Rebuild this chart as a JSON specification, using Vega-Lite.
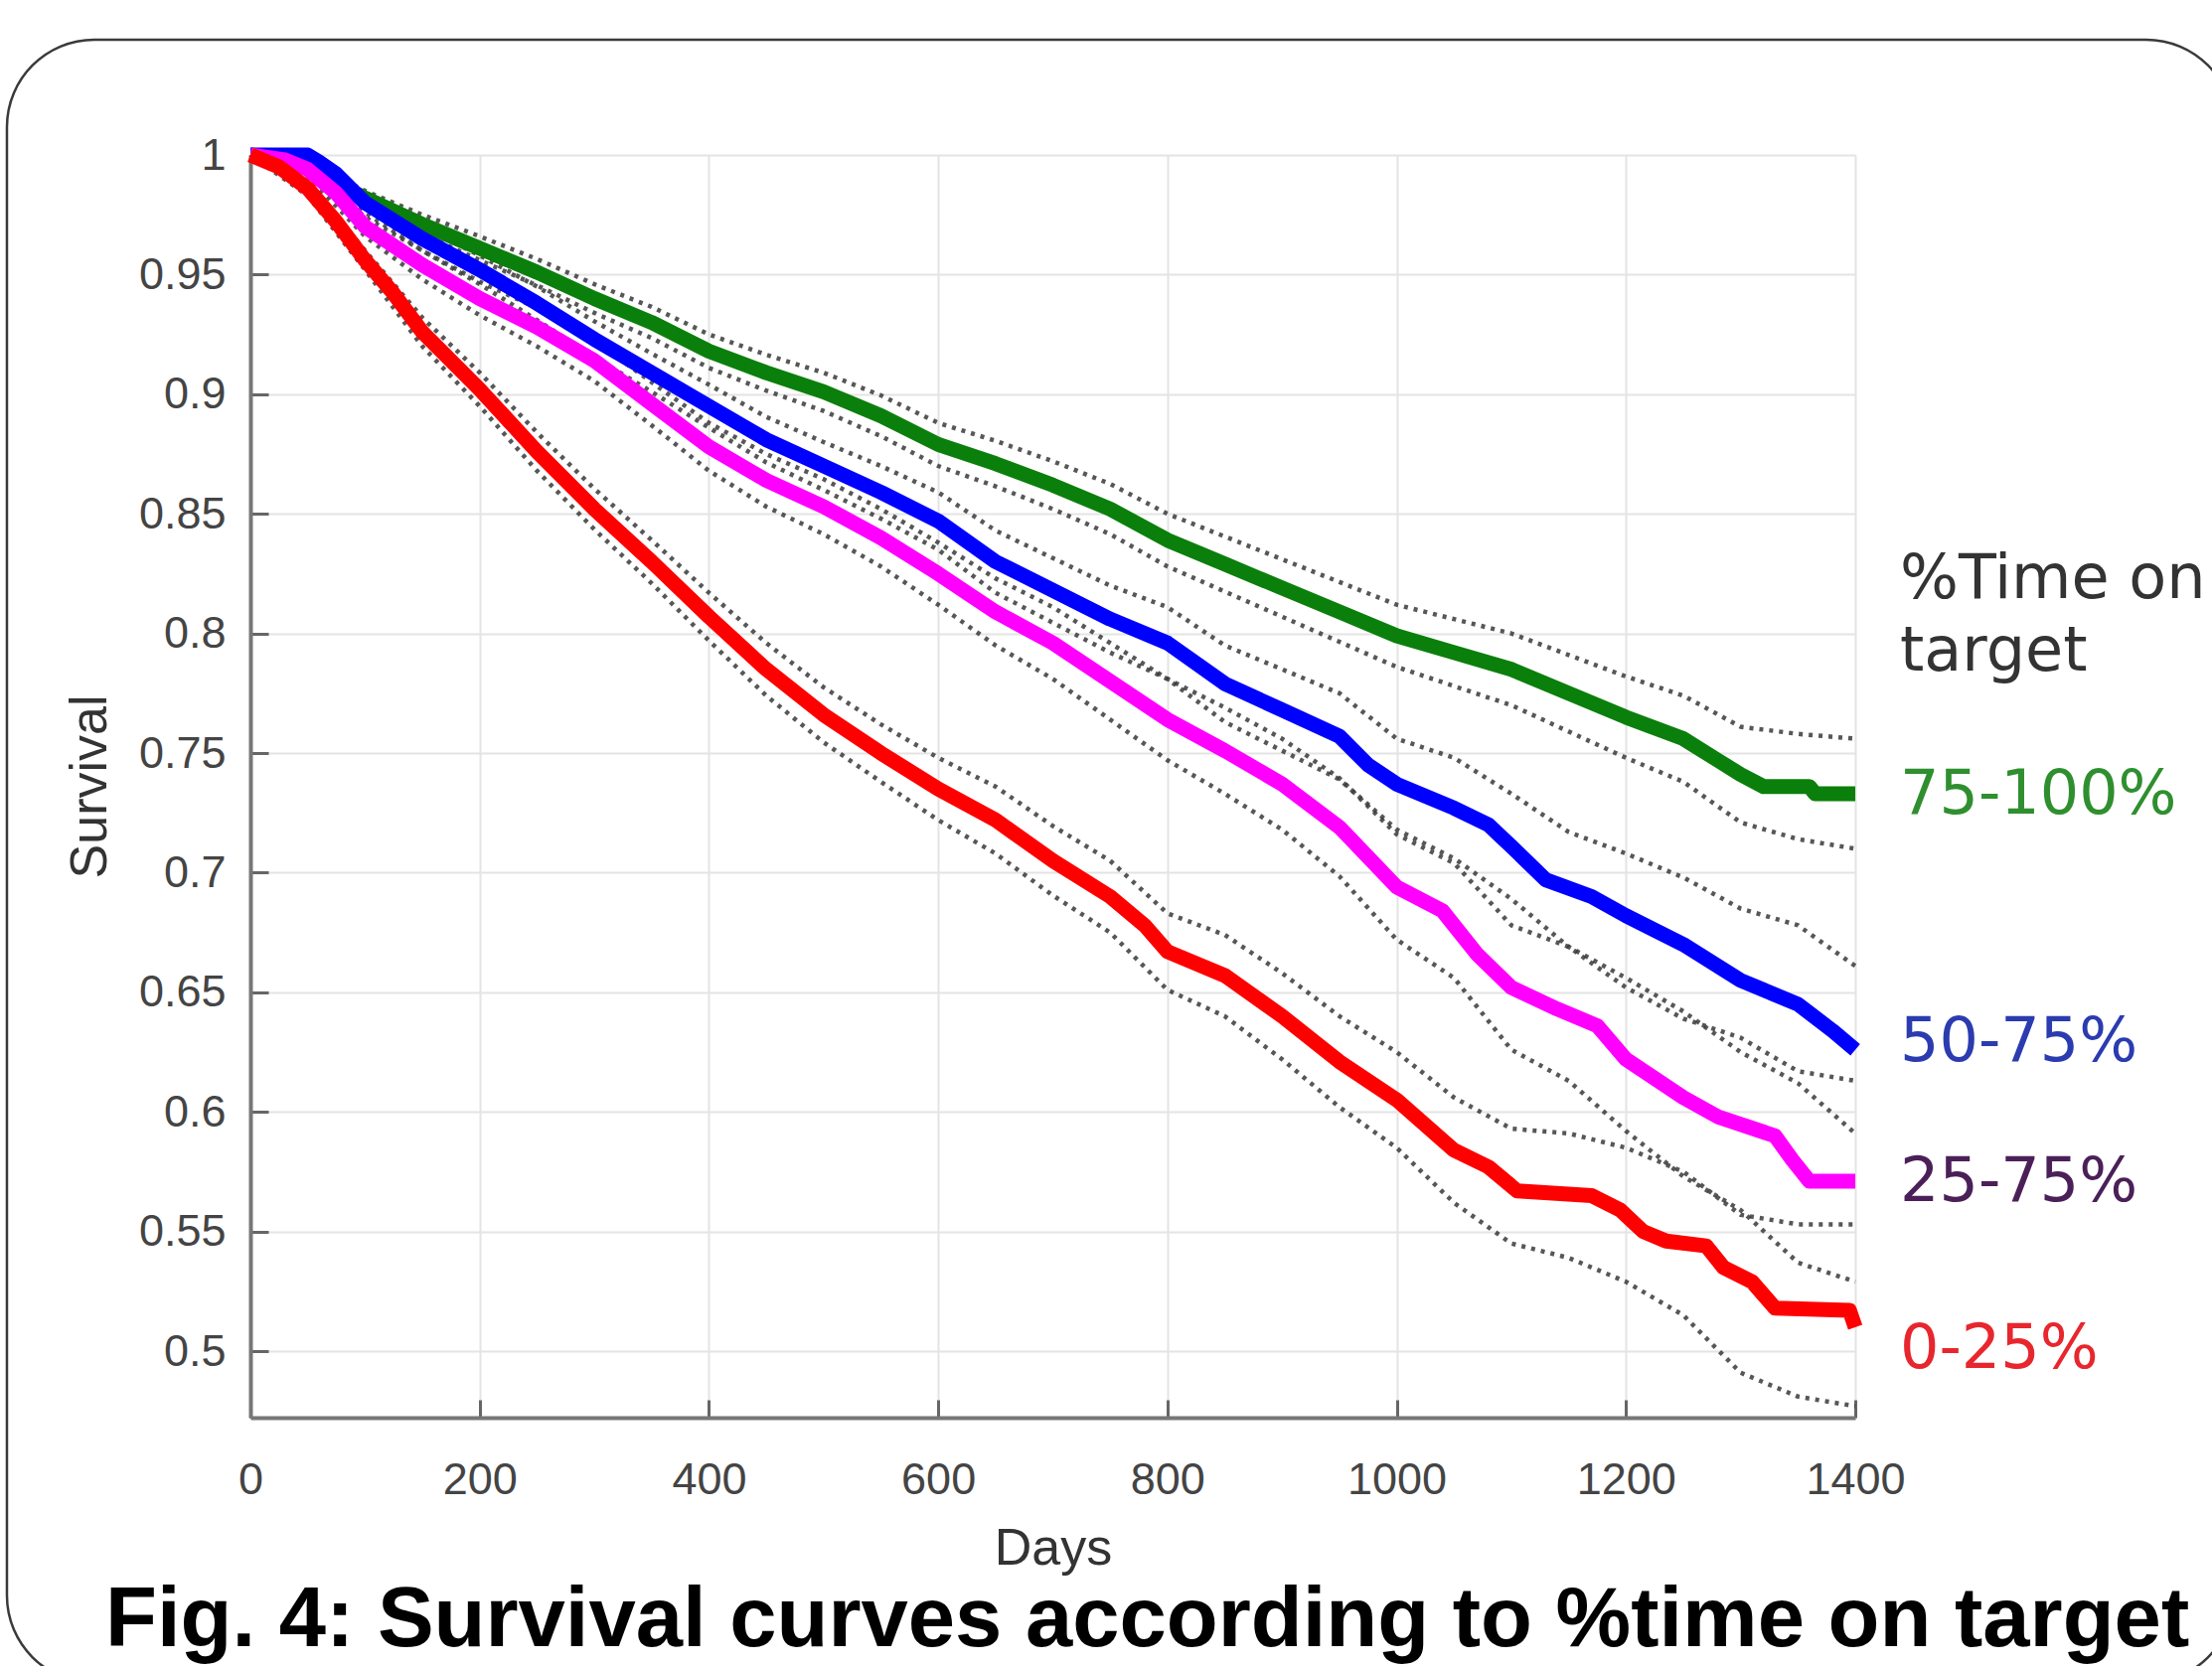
{
  "$schema": "https://vega.github.io/schema/vega-lite/v6.json",
  "width": 1615,
  "height": 1271,
  "autosize": {"type": "none"},
  "padding": {"left": 252, "top": 156, "right": 359, "bottom": 250},
  "background": "white",
  "config": {
    "view": {"stroke": null},
    "font": "Liberation Sans"
  },
  "title": {
    "text": "Fig. 4: Survival curves according to %time on target",
    "orient": "bottom",
    "anchor": "start",
    "frame": "group",
    "dx": -146,
    "offset": -105,
    "font": "Liberation Sans",
    "fontSize": 85,
    "fontWeight": "bold",
    "color": "#000000"
  },
  "datasets": {
    "main": [
      {"g":"75-100%","d":0,"s":1},{"g":"75-100%","d":25,"s":0.999},{"g":"75-100%","d":50,"s":0.995},{"g":"75-100%","d":75,"s":0.988},{"g":"75-100%","d":100,"s":0.982},{"g":"75-100%","d":150,"s":0.971},{"g":"75-100%","d":200,"s":0.961},{"g":"75-100%","d":250,"s":0.951},{"g":"75-100%","d":300,"s":0.94},{"g":"75-100%","d":350,"s":0.93},{"g":"75-100%","d":400,"s":0.918},{"g":"75-100%","d":450,"s":0.909},{"g":"75-100%","d":500,"s":0.901},{"g":"75-100%","d":550,"s":0.891},{"g":"75-100%","d":600,"s":0.879},{"g":"75-100%","d":650,"s":0.871},{"g":"75-100%","d":700,"s":0.862},{"g":"75-100%","d":750,"s":0.852},{"g":"75-100%","d":800,"s":0.839},{"g":"75-100%","d":850,"s":0.829},{"g":"75-100%","d":900,"s":0.819},{"g":"75-100%","d":950,"s":0.809},{"g":"75-100%","d":1000,"s":0.799},{"g":"75-100%","d":1050,"s":0.792},{"g":"75-100%","d":1100,"s":0.785},{"g":"75-100%","d":1150,"s":0.775},{"g":"75-100%","d":1200,"s":0.765},{"g":"75-100%","d":1250,"s":0.756},{"g":"75-100%","d":1280,"s":0.747},{"g":"75-100%","d":1300,"s":0.741},{"g":"75-100%","d":1320,"s":0.736},{"g":"75-100%","d":1360,"s":0.736},{"g":"75-100%","d":1365,"s":0.733},{"g":"75-100%","d":1400,"s":0.733},
      {"g":"50-75%","d":0,"s":1},{"g":"50-75%","d":50,"s":1},{"g":"50-75%","d":60,"s":0.997},{"g":"50-75%","d":75,"s":0.992},{"g":"50-75%","d":100,"s":0.98},{"g":"50-75%","d":150,"s":0.965},{"g":"50-75%","d":200,"s":0.952},{"g":"50-75%","d":250,"s":0.938},{"g":"50-75%","d":300,"s":0.923},{"g":"50-75%","d":350,"s":0.909},{"g":"50-75%","d":400,"s":0.895},{"g":"50-75%","d":450,"s":0.881},{"g":"50-75%","d":500,"s":0.87},{"g":"50-75%","d":550,"s":0.859},{"g":"50-75%","d":600,"s":0.847},{"g":"50-75%","d":650,"s":0.83},{"g":"50-75%","d":700,"s":0.818},{"g":"50-75%","d":750,"s":0.806},{"g":"50-75%","d":800,"s":0.796},{"g":"50-75%","d":850,"s":0.779},{"g":"50-75%","d":900,"s":0.768},{"g":"50-75%","d":950,"s":0.757},{"g":"50-75%","d":975,"s":0.745},{"g":"50-75%","d":1000,"s":0.737},{"g":"50-75%","d":1050,"s":0.727},{"g":"50-75%","d":1080,"s":0.72},{"g":"50-75%","d":1100,"s":0.711},{"g":"50-75%","d":1130,"s":0.697},{"g":"50-75%","d":1170,"s":0.69},{"g":"50-75%","d":1200,"s":0.682},{"g":"50-75%","d":1250,"s":0.67},{"g":"50-75%","d":1300,"s":0.655},{"g":"50-75%","d":1350,"s":0.645},{"g":"50-75%","d":1380,"s":0.634},{"g":"50-75%","d":1400,"s":0.626},
      {"g":"25-75%","d":0,"s":1},{"g":"25-75%","d":30,"s":0.998},{"g":"25-75%","d":50,"s":0.994},{"g":"25-75%","d":75,"s":0.984},{"g":"25-75%","d":100,"s":0.97},{"g":"25-75%","d":150,"s":0.954},{"g":"25-75%","d":200,"s":0.94},{"g":"25-75%","d":250,"s":0.928},{"g":"25-75%","d":300,"s":0.914},{"g":"25-75%","d":350,"s":0.896},{"g":"25-75%","d":400,"s":0.878},{"g":"25-75%","d":450,"s":0.864},{"g":"25-75%","d":500,"s":0.853},{"g":"25-75%","d":550,"s":0.84},{"g":"25-75%","d":600,"s":0.825},{"g":"25-75%","d":650,"s":0.809},{"g":"25-75%","d":700,"s":0.796},{"g":"25-75%","d":750,"s":0.78},{"g":"25-75%","d":800,"s":0.764},{"g":"25-75%","d":850,"s":0.751},{"g":"25-75%","d":900,"s":0.737},{"g":"25-75%","d":950,"s":0.719},{"g":"25-75%","d":1000,"s":0.694},{"g":"25-75%","d":1040,"s":0.684},{"g":"25-75%","d":1070,"s":0.666},{"g":"25-75%","d":1100,"s":0.652},{"g":"25-75%","d":1140,"s":0.643},{"g":"25-75%","d":1175,"s":0.636},{"g":"25-75%","d":1200,"s":0.622},{"g":"25-75%","d":1250,"s":0.606},{"g":"25-75%","d":1280,"s":0.598},{"g":"25-75%","d":1330,"s":0.59},{"g":"25-75%","d":1345,"s":0.58},{"g":"25-75%","d":1360,"s":0.571},{"g":"25-75%","d":1400,"s":0.571},
      {"g":"0-25%","d":0,"s":1},{"g":"0-25%","d":25,"s":0.995},{"g":"0-25%","d":50,"s":0.986},{"g":"0-25%","d":75,"s":0.972},{"g":"0-25%","d":100,"s":0.956},{"g":"0-25%","d":125,"s":0.942},{"g":"0-25%","d":150,"s":0.926},{"g":"0-25%","d":200,"s":0.902},{"g":"0-25%","d":250,"s":0.876},{"g":"0-25%","d":300,"s":0.852},{"g":"0-25%","d":350,"s":0.83},{"g":"0-25%","d":400,"s":0.807},{"g":"0-25%","d":450,"s":0.785},{"g":"0-25%","d":500,"s":0.766},{"g":"0-25%","d":550,"s":0.75},{"g":"0-25%","d":600,"s":0.735},{"g":"0-25%","d":650,"s":0.722},{"g":"0-25%","d":700,"s":0.705},{"g":"0-25%","d":750,"s":0.69},{"g":"0-25%","d":780,"s":0.678},{"g":"0-25%","d":800,"s":0.667},{"g":"0-25%","d":850,"s":0.657},{"g":"0-25%","d":900,"s":0.64},{"g":"0-25%","d":950,"s":0.621},{"g":"0-25%","d":1000,"s":0.605},{"g":"0-25%","d":1050,"s":0.584},{"g":"0-25%","d":1080,"s":0.577},{"g":"0-25%","d":1105,"s":0.567},{"g":"0-25%","d":1170,"s":0.565},{"g":"0-25%","d":1195,"s":0.559},{"g":"0-25%","d":1215,"s":0.55},{"g":"0-25%","d":1235,"s":0.546},{"g":"0-25%","d":1270,"s":0.544},{"g":"0-25%","d":1285,"s":0.535},{"g":"0-25%","d":1310,"s":0.529},{"g":"0-25%","d":1330,"s":0.518},{"g":"0-25%","d":1395,"s":0.517},{"g":"0-25%","d":1400,"s":0.51}
    ],
    "ci": [
      {"g":"75-100%","d":0,"h":1,"l":1},{"g":"75-100%","d":50,"h":0.997,"l":0.993},{"g":"75-100%","d":100,"h":0.985,"l":0.979},{"g":"75-100%","d":150,"h":0.975,"l":0.967},{"g":"75-100%","d":200,"h":0.966,"l":0.956},{"g":"75-100%","d":250,"h":0.9565,"l":0.9455},{"g":"75-100%","d":300,"h":0.946,"l":0.934},{"g":"75-100%","d":350,"h":0.9365,"l":0.9235},{"g":"75-100%","d":400,"h":0.925,"l":0.911},{"g":"75-100%","d":450,"h":0.9165,"l":0.9015},{"g":"75-100%","d":500,"h":0.909,"l":0.893},{"g":"75-100%","d":550,"h":0.8995,"l":0.8825},{"g":"75-100%","d":600,"h":0.888,"l":0.87},{"g":"75-100%","d":650,"h":0.8805,"l":0.8615},{"g":"75-100%","d":700,"h":0.872,"l":0.852},{"g":"75-100%","d":750,"h":0.8625,"l":0.8415},{"g":"75-100%","d":800,"h":0.85,"l":0.828},{"g":"75-100%","d":850,"h":0.8405,"l":0.8175},{"g":"75-100%","d":900,"h":0.831,"l":0.807},{"g":"75-100%","d":950,"h":0.8215,"l":0.7965},{"g":"75-100%","d":1000,"h":0.812,"l":0.786},{"g":"75-100%","d":1050,"h":0.806,"l":0.778},{"g":"75-100%","d":1100,"h":0.8,"l":0.77},{"g":"75-100%","d":1150,"h":0.791,"l":0.759},{"g":"75-100%","d":1200,"h":0.782,"l":0.748},{"g":"75-100%","d":1250,"h":0.774,"l":0.738},{"g":"75-100%","d":1300,"h":0.761,"l":0.721},{"g":"75-100%","d":1350,"h":0.758,"l":0.714},{"g":"75-100%","d":1400,"h":0.756,"l":0.71},
      {"g":"50-75%","d":0,"h":1,"l":1},{"g":"50-75%","d":50,"h":1,"l":0.999},{"g":"50-75%","d":100,"h":0.984,"l":0.976},{"g":"50-75%","d":150,"h":0.97,"l":0.96},{"g":"50-75%","d":200,"h":0.958,"l":0.946},{"g":"50-75%","d":250,"h":0.945,"l":0.931},{"g":"50-75%","d":300,"h":0.9305,"l":0.9155},{"g":"50-75%","d":350,"h":0.917,"l":0.901},{"g":"50-75%","d":400,"h":0.904,"l":0.886},{"g":"50-75%","d":450,"h":0.8905,"l":0.8715},{"g":"50-75%","d":500,"h":0.88,"l":0.86},{"g":"50-75%","d":550,"h":0.87,"l":0.848},{"g":"50-75%","d":600,"h":0.859,"l":0.835},{"g":"50-75%","d":650,"h":0.843,"l":0.817},{"g":"50-75%","d":700,"h":0.8315,"l":0.8045},{"g":"50-75%","d":750,"h":0.82,"l":0.792},{"g":"50-75%","d":800,"h":0.811,"l":0.781},{"g":"50-75%","d":850,"h":0.795,"l":0.763},{"g":"50-75%","d":900,"h":0.785,"l":0.751},{"g":"50-75%","d":950,"h":0.775,"l":0.739},{"g":"50-75%","d":1000,"h":0.756,"l":0.718},{"g":"50-75%","d":1050,"h":0.748,"l":0.706},{"g":"50-75%","d":1100,"h":0.733,"l":0.689},{"g":"50-75%","d":1150,"h":0.717,"l":0.669},{"g":"50-75%","d":1200,"h":0.708,"l":0.656},{"g":"50-75%","d":1250,"h":0.698,"l":0.642},{"g":"50-75%","d":1300,"h":0.685,"l":0.625},{"g":"50-75%","d":1350,"h":0.678,"l":0.612},{"g":"50-75%","d":1400,"h":0.661,"l":0.591},
      {"g":"25-75%","d":0,"h":1,"l":1},{"g":"25-75%","d":50,"h":0.997,"l":0.991},{"g":"25-75%","d":100,"h":0.974,"l":0.966},{"g":"25-75%","d":150,"h":0.96,"l":0.948},{"g":"25-75%","d":200,"h":0.947,"l":0.933},{"g":"25-75%","d":250,"h":0.936,"l":0.92},{"g":"25-75%","d":300,"h":0.9225,"l":0.9055},{"g":"25-75%","d":350,"h":0.905,"l":0.887},{"g":"25-75%","d":400,"h":0.888,"l":0.868},{"g":"25-75%","d":450,"h":0.875,"l":0.853},{"g":"25-75%","d":500,"h":0.8645,"l":0.8415},{"g":"25-75%","d":550,"h":0.852,"l":0.828},{"g":"25-75%","d":600,"h":0.838,"l":0.812},{"g":"25-75%","d":650,"h":0.823,"l":0.795},{"g":"25-75%","d":700,"h":0.811,"l":0.781},{"g":"25-75%","d":750,"h":0.796,"l":0.764},{"g":"25-75%","d":800,"h":0.781,"l":0.747},{"g":"25-75%","d":850,"h":0.769,"l":0.733},{"g":"25-75%","d":900,"h":0.756,"l":0.718},{"g":"25-75%","d":950,"h":0.7395,"l":0.6985},{"g":"25-75%","d":1000,"h":0.716,"l":0.672},{"g":"25-75%","d":1050,"h":0.704,"l":0.656},{"g":"25-75%","d":1100,"h":0.678,"l":0.626},{"g":"25-75%","d":1150,"h":0.669,"l":0.613},{"g":"25-75%","d":1200,"h":0.652,"l":0.592},{"g":"25-75%","d":1250,"h":0.639,"l":0.573},{"g":"25-75%","d":1300,"h":0.631,"l":0.559},{"g":"25-75%","d":1350,"h":0.617,"l":0.537},{"g":"25-75%","d":1400,"h":0.613,"l":0.529},
      {"g":"0-25%","d":0,"h":1,"l":1},{"g":"0-25%","d":50,"h":0.989,"l":0.983},{"g":"0-25%","d":100,"h":0.96,"l":0.952},{"g":"0-25%","d":150,"h":0.932,"l":0.92},{"g":"0-25%","d":200,"h":0.909,"l":0.895},{"g":"0-25%","d":250,"h":0.884,"l":0.868},{"g":"0-25%","d":300,"h":0.8605,"l":0.8435},{"g":"0-25%","d":350,"h":0.839,"l":0.821},{"g":"0-25%","d":400,"h":0.817,"l":0.797},{"g":"0-25%","d":450,"h":0.796,"l":0.774},{"g":"0-25%","d":500,"h":0.7775,"l":0.7545},{"g":"0-25%","d":550,"h":0.762,"l":0.738},{"g":"0-25%","d":600,"h":0.748,"l":0.722},{"g":"0-25%","d":650,"h":0.736,"l":0.708},{"g":"0-25%","d":700,"h":0.7195,"l":0.6905},{"g":"0-25%","d":750,"h":0.705,"l":0.675},{"g":"0-25%","d":800,"h":0.683,"l":0.651},{"g":"0-25%","d":850,"h":0.674,"l":0.64},{"g":"0-25%","d":900,"h":0.658,"l":0.622},{"g":"0-25%","d":950,"h":0.64,"l":0.602},{"g":"0-25%","d":1000,"h":0.625,"l":0.585},{"g":"0-25%","d":1050,"h":0.606,"l":0.562},{"g":"0-25%","d":1100,"h":0.593,"l":0.545},{"g":"0-25%","d":1150,"h":0.591,"l":0.539},{"g":"0-25%","d":1200,"h":0.585,"l":0.529},{"g":"0-25%","d":1250,"h":0.575,"l":0.515},{"g":"0-25%","d":1300,"h":0.557,"l":0.491},{"g":"0-25%","d":1350,"h":0.553,"l":0.481},{"g":"0-25%","d":1400,"h":0.553,"l":0.477}
    ],
    "labels": [
      {"t":"%Time on","d":1400,"s":0.815},
      {"t":"target","d":1400,"s":0.7846},
      {"t":"75-100%","d":1400,"s":0.7245},
      {"t":"50-75%","d":1400,"s":0.6213},
      {"t":"25-75%","d":1400,"s":0.5629},
      {"t":"0-25%","d":1400,"s":0.493}
    ]
  },
  "resolve": {"scale": {"color": "independent"}},
  "layer": [
    {
      "data": {"values": [{"frame": "border"}]},
      "mark": {"type": "rect", "fill": null, "fillOpacity": 0, "stroke": "#3a3a3a", "strokeWidth": 2.5, "cornerRadius": 88, "clip": false},
      "encoding": {
        "x": {"datum": -212.4, "type": "quantitative", "scale": {"domain": [0, 1400], "nice": false, "zero": false}},
        "x2": {"datum": 1730},
        "y": {"datum": 1.0482, "type": "quantitative", "scale": {"domain": [0.4722, 1], "nice": false, "zero": false}},
        "y2": {"datum": 0.3613}
      }
    },
    {
      "data": {"name": "ci"},
      "transform": [{"fold": ["h", "l"], "as": ["k", "s"]}],
      "mark": {"type": "line", "stroke": "#3a3a3a", "strokeWidth": 4.5, "strokeDash": [4, 6], "opacity": 0.85},
      "encoding": {
        "x": {
          "field": "d", "type": "quantitative",
          "scale": {"domain": [0, 1400], "nice": false, "zero": false},
          "axis": {
            "values": [0, 200, 400, 600, 800, 1000, 1200, 1400],
            "format": "d",
            "title": "Days",
            "titleFont": "Liberation Sans",
            "titleFontSize": 52,
            "titleFontWeight": "normal",
            "titleColor": "#333333",
            "titlePadding": 21,
            "labelFont": "Liberation Sans",
            "labelFontSize": 45,
            "labelColor": "#444444",
            "labelPadding": 58,
            "labelFlush": false,
            "grid": true,
            "gridColor": "#e4e4e4",
            "gridWidth": 2,
            "domainColor": "#777777",
            "domainWidth": 4,
            "tickColor": "#666666",
            "tickWidth": 3,
            "tickSize": -18
          }
        },
        "y": {
          "field": "s", "type": "quantitative",
          "scale": {"domain": [0.4722, 1], "nice": false, "zero": false},
          "axis": {
            "values": [0.5, 0.55, 0.6, 0.65, 0.7, 0.75, 0.8, 0.85, 0.9, 0.95, 1],
            "format": ".2~f",
            "title": "Survival",
            "titleFont": "Liberation Sans",
            "titleFontSize": 52,
            "titleFontWeight": "normal",
            "titleColor": "#333333",
            "titlePadding": 22,
            "labelFont": "Liberation Sans",
            "labelFontSize": 45,
            "labelColor": "#444444",
            "labelPadding": 43,
            "labelFlush": false,
            "grid": true,
            "gridColor": "#e4e4e4",
            "gridWidth": 2,
            "domainColor": "#777777",
            "domainWidth": 4,
            "tickColor": "#666666",
            "tickWidth": 3,
            "tickSize": -18
          }
        },
        "detail": [{"field": "g", "type": "nominal"}, {"field": "k", "type": "nominal"}]
      }
    },
    {
      "data": {"name": "main"},
      "mark": {"type": "line", "strokeWidth": 15, "strokeJoin": "round", "strokeCap": "butt"},
      "encoding": {
        "x": {"field": "d", "type": "quantitative"},
        "y": {"field": "s", "type": "quantitative"},
        "color": {
          "field": "g", "type": "nominal", "legend": null,
          "scale": {"domain": ["75-100%", "50-75%", "25-75%", "0-25%"], "range": ["#0b7f0b", "#0000ff", "#ff00ff", "#ff0000"]}
        }
      }
    },
    {
      "data": {"name": "labels"},
      "mark": {"type": "text", "align": "left", "baseline": "alphabetic", "dx": 45, "font": "DejaVu Sans", "fontSize": 62, "clip": false},
      "encoding": {
        "x": {"field": "d", "type": "quantitative"},
        "y": {"field": "s", "type": "quantitative"},
        "text": {"field": "t", "type": "nominal"},
        "color": {
          "field": "t", "type": "nominal", "legend": null,
          "scale": {"domain": ["%Time on", "target", "75-100%", "50-75%", "25-75%", "0-25%"], "range": ["#333333", "#333333", "#2f8f2f", "#2b3bb0", "#4b2058", "#e8262d"]}
        }
      }
    }
  ]
}
